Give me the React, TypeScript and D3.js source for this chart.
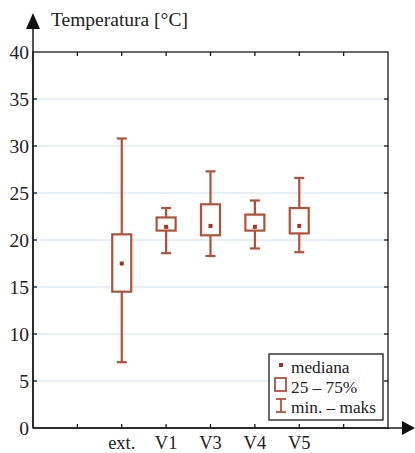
import { useEffect, useRef } from 'react';
import * as d3 from 'd3';

// pozycje na osi X (puste = tylko znacznik)
const slots = ['s0', 's1', 'ext.', 'V1', 'V3', 'V4', 'V5', 's7', 's8'];
const groups = ['ext.', 'V1', 'V3', 'V4', 'V5'];
const minVals = [7.0, 18.6, 18.3, 19.1, 18.7];
const q1Vals = [14.5, 21.0, 20.5, 21.0, 20.7];
const medVals = [17.5, 21.4, 21.5, 21.4, 21.5];
const q3Vals = [20.6, 22.4, 23.8, 22.7, 23.4];
const maxVals = [30.8, 23.4, 27.3, 24.2, 26.6];
const yTicks = [0, 5, 10, 15, 20, 25, 30, 35, 40];

const W = 415;
const H = 453;
const FONT = "'Liberation Serif', 'DejaVu Serif', serif";
const BOX = '#b4503a';

export default function App() {
  const svgRef = useRef<SVGSVGElement>(null);

  useEffect(() => {
    if (!svgRef.current) return;
    const svg = d3.select(svgRef.current);
    svg.selectAll('*').remove();

    const left = 33, right = 388, top = 52, bottom = 428;
    const x = d3.scalePoint<string>().domain(slots).range([left, right]);
    const y = d3.scaleLinear().domain([0, 40]).range([bottom, top]);

    // siatka
    svg.append('g')
      .selectAll('line')
      .data(yTicks.filter((t) => t > 0 && t < 40))
      .join('line')
      .attr('x1', left).attr('x2', right)
      .attr('y1', (d) => y(d)).attr('y2', (d) => y(d))
      .attr('stroke', '#cfe2ee').attr('stroke-width', 1.2);

    // ramka
    svg.append('rect')
      .attr('x', left).attr('y', top)
      .attr('width', right - left).attr('height', bottom - top)
      .attr('fill', 'none').attr('stroke', '#1a1a1a').attr('stroke-width', 1.3);

    // znaczniki X (góra i dół)
    const inner = slots.slice(1, -1);
    const tk = svg.append('g').attr('stroke', '#1a1a1a').attr('stroke-width', 1.3);
    inner.forEach((s) => {
      tk.append('line').attr('x1', x(s)!).attr('x2', x(s)!).attr('y1', top).attr('y2', top + 4);
      tk.append('line').attr('x1', x(s)!).attr('x2', x(s)!).attr('y1', bottom).attr('y2', bottom - 4);
    });
    yTicks.filter((t) => t > 0 && t < 40).forEach((t) => {
      tk.append('line').attr('x1', left).attr('x2', left + 4).attr('y1', y(t)).attr('y2', y(t));
      tk.append('line').attr('x1', right).attr('x2', right - 4).attr('y1', y(t)).attr('y2', y(t));
    });

    // osie ze strzałkami
    svg.append('line').attr('x1', left).attr('x2', left).attr('y1', bottom).attr('y2', 24)
      .attr('stroke', '#1a1a1a').attr('stroke-width', 1.5);
    svg.append('path').attr('d', `M${left - 7},29 L${left},13 L${left + 7},29 Z`).attr('fill', '#111');
    svg.append('line').attr('x1', left).attr('x2', 404).attr('y1', bottom).attr('y2', bottom)
      .attr('stroke', '#1a1a1a').attr('stroke-width', 1.5);
    svg.append('path').attr('d', `M402,${bottom - 7} L415,${bottom} L402,${bottom + 7} Z`).attr('fill', '#111');

    // etykiety osi Y
    svg.append('g')
      .selectAll('text')
      .data(yTicks)
      .join('text')
      .attr('x', 29).attr('y', (d) => y(d) + 6.5)
      .attr('text-anchor', 'end')
      .style('font-family', FONT).style('font-size', '19.5px').attr('fill', '#222')
      .text((d) => d);

    svg.append('text')
      .attr('x', 51).attr('y', 26)
      .style('font-family', FONT).style('font-size', '19.5px').attr('fill', '#222')
      .text('Temperatura [°C]');

    // etykiety osi X
    svg.append('g')
      .selectAll('text')
      .data(groups)
      .join('text')
      .attr('x', (d) => x(d)!).attr('y', 449)
      .attr('text-anchor', 'middle')
      .style('font-family', FONT).style('font-size', '18.5px').attr('fill', '#222')
      .text((d) => d);

    // wykresy pudełkowe
    const g = svg.append('g').attr('stroke', BOX).attr('stroke-width', 2.2).attr('fill', 'none');
    groups.forEach((grp, i) => {
      const cx = x(grp)!;
      const bw = 19, cw = 10;
      g.append('line').attr('x1', cx).attr('x2', cx).attr('y1', y(maxVals[i])).attr('y2', y(q3Vals[i]));
      g.append('line').attr('x1', cx).attr('x2', cx).attr('y1', y(q1Vals[i])).attr('y2', y(minVals[i]));
      g.append('line').attr('x1', cx - cw / 2).attr('x2', cx + cw / 2).attr('y1', y(maxVals[i])).attr('y2', y(maxVals[i]));
      g.append('line').attr('x1', cx - cw / 2).attr('x2', cx + cw / 2).attr('y1', y(minVals[i])).attr('y2', y(minVals[i]));
      g.append('rect')
        .attr('x', cx - bw / 2).attr('y', y(q3Vals[i]))
        .attr('width', bw).attr('height', y(q1Vals[i]) - y(q3Vals[i]))
        .attr('fill', '#fff');
      svg.append('rect')
        .attr('x', cx - 2).attr('y', y(medVals[i]) - 2)
        .attr('width', 4).attr('height', 4)
        .attr('fill', '#a8321f');
    });

    // legenda
    const lg = svg.append('g');
    lg.append('rect').attr('x', 269).attr('y', 354).attr('width', 114).attr('height', 66)
      .attr('fill', '#fff').attr('stroke', '#1a1a1a').attr('stroke-width', 1.3);
    lg.append('rect').attr('x', 279).attr('y', 363).attr('width', 4).attr('height', 4).attr('fill', '#a8321f');
    lg.append('rect').attr('x', 275).attr('y', 378).attr('width', 11).attr('height', 13)
      .attr('fill', '#fff').attr('stroke', BOX).attr('stroke-width', 1.8);
    const ic = lg.append('g').attr('stroke', BOX).attr('stroke-width', 1.8);
    ic.append('line').attr('x1', 281).attr('x2', 281).attr('y1', 399).attr('y2', 412);
    ic.append('line').attr('x1', 276).attr('x2', 286).attr('y1', 399).attr('y2', 399);
    ic.append('line').attr('x1', 276).attr('x2', 286).attr('y1', 412).attr('y2', 412);
    const labels = ['mediana', '25 – 75%', 'min. – maks'];
    lg.selectAll('text.lab')
      .data(labels)
      .join('text')
      .attr('class', 'lab')
      .attr('x', 291).attr('y', (_, i) => 373 + i * 20)
      .style('font-family', FONT).style('font-size', '17.3px').attr('fill', '#222')
      .text((d) => d);
  }, []);

  return (
    <div style={{ position: 'absolute', left: 0, top: 0, background: '#fff' }}>
      <svg ref={svgRef} width={W} height={H} style={{ display: 'block' }} />
    </div>
  );
}
